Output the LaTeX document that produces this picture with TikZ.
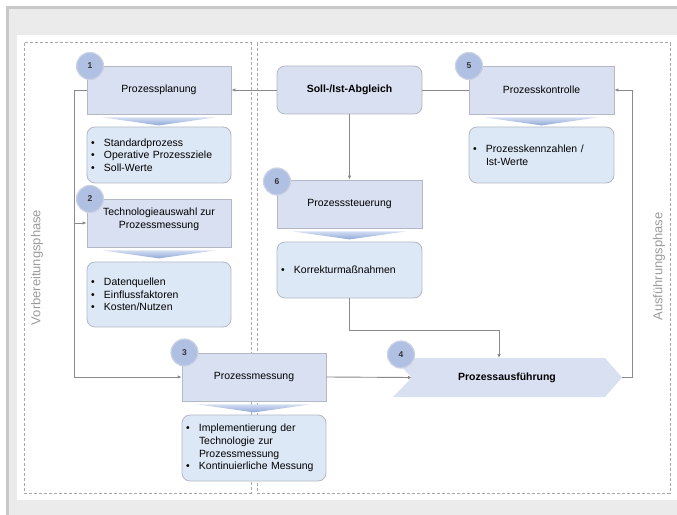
\documentclass[tikz,border=0pt]{standalone}
\usepackage{fontspec}
\setmainfont{Liberation Sans}
\usetikzlibrary{arrows.meta}
\definecolor{bgouter}{HTML}{EBEBEB}
\definecolor{bgline}{HTML}{C8C8C8}
\definecolor{boxfill}{HTML}{D8E0F1}
\definecolor{boxline}{HTML}{B4B8C4}
\definecolor{listfill}{HTML}{DDE8F6}
\definecolor{circfill}{HTML}{B0C0E3}
\definecolor{circline}{HTML}{CBD2E4}
\definecolor{conn}{HTML}{8A8A8A}
\definecolor{dashc}{HTML}{A8A8A8}
\definecolor{phasec}{HTML}{9C9C9C}
\definecolor{chevtop}{HTML}{D3DDF1}
\definecolor{chevbot}{HTML}{8EA8DA}
\newcommand\bl{\makebox[13bp][l]{\textbullet}}
\newcommand\ind{\hspace*{13bp}}
\newcommand\chevron[1]{\shade[top color=chevtop,bottom color=chevbot]
  ([xshift=16bp,yshift=-3bp]#1.south west) -- ([xshift=-16bp,yshift=-3bp]#1.south east)
  -- ([yshift=-11bp]#1.south) -- cycle;}
\tikzset{
 titlebox/.style={draw=boxline, fill=boxfill, line width=0.8bp, minimum width=144bp,
   minimum height=48bp, inner sep=0pt, font=\fontsize{10.5}{12.5}\selectfont, align=center},
 listbox/.style={draw=boxline, fill=listfill, line width=0.8bp, rounded corners=8bp,
   minimum width=144bp, inner xsep=4bp, inner ysep=0pt, text width=136bp, align=left,
   font=\fontsize{10.5}{12.7}\selectfont},
 numcirc/.style={circle, draw=circline, fill=circfill, line width=1.2bp, minimum size=27bp,
   inner sep=0pt, font=\bfseries\fontsize{8.5}{10}\selectfont, text=black!80},
 conline/.style={draw=conn, line width=0.9bp},
 conarrow/.style={conline, -{Latex[length=4bp,width=3.5bp]}},
 phasebox/.style={draw=dashc, line width=1bp, dash pattern=on 3bp off 2bp},
 phaselabel/.style={text=phasec, font=\fontsize{13}{15}\selectfont, rotate=90},
}
\begin{document}
\begin{tikzpicture}[x=1bp,y=-1bp]
\useasboundingbox (0,0) rectangle (677,515);
% background
\fill[white] (0,0) rectangle (677,515);
\fill[bgouter] (6,6) rectangle (677,515);
\fill[bgline] (6,6) rectangle (677,9);
\fill[bgline] (6,6) rectangle (9,515);
\fill[white] (17,35) rectangle (677,500);
% phase boxes
\draw[phasebox] (24,43) rectangle (251,493);
\draw[phasebox] (257,43) rectangle (670,493);
\node[phaselabel] (vp) at (37,267.5) {Vorbereitungsphase};
\node[phaselabel] (ap) at (659,266.5) {Ausführungsphase};

% left column
\node[titlebox] (pp) at (159,90) {Prozessplanung};
\chevron{pp}
\node[listbox, minimum height=56bp] (l1) at (159,155)
  {\bl Standardprozess\\\bl Operative Prozessziele\\\bl Soll-Werte};
\node[titlebox] (tw) at (159,223) {};
\node[font=\fontsize{10.5}{12.5}\selectfont, align=center] (twt) at (159,219.5)
  {Technologieauswahl zur\\Prozessmessung};
\chevron{tw}
\node[listbox, minimum height=65bp] (l2) at (159,294.5)
  {\bl Datenquellen\\\bl Einflussfaktoren\\\bl Kosten/Nutzen};
\node[titlebox] (pm) at (254,377) {Prozessmessung};
\chevron{pm}
\node[listbox, minimum height=66bp] (l3) at (254,448)
  {\bl Implementierung der\\\ind Technologie zur\\\ind Prozessmessung\\\bl Kontinuierliche Messung};

% middle
\node[titlebox, rounded corners=8bp, minimum width=145bp, font=\bfseries\fontsize{10.5}{12.5}\selectfont]
  (soll) at (349.5,90) {Soll-/Ist-Abgleich};
\node[titlebox, minimum width=145bp] (ps) at (349.5,204) {Prozesssteuerung};
\chevron{ps}
\node[listbox, minimum width=145bp, text width=137bp, minimum height=56bp] (l6) at (349.5,270)
  {\bl Korrekturmaßnahmen};

% right
\node[titlebox, minimum width=145bp] (pk) at (541.5,90) {Prozesskontrolle};
\chevron{pk}
\node[listbox, minimum width=145bp, text width=137bp, minimum height=56bp] (l5) at (541.5,155)
  {\bl Prozesskennzahlen /\\\ind Ist-Werte};

% Prozessausfuehrung
\fill[boxfill] (393,358) -- (605,358) -- (622,377.5) -- (605,397) -- (393,397) -- (412,377.5) -- cycle;
\coordinate (panotch) at (412,377.5);
\coordinate (patip) at (622,377.5);
\coordinate (patop) at (499,358);
\node[font=\bfseries\fontsize{10.5}{12.5}\selectfont] (pa) at (507,377.5) {Prozessausführung};

% connectors
\draw[conarrow] (soll.west) -- (pp.east);
\draw[conline] (pk.west) -- (soll.east);
\draw[conarrow] (soll.south) -- (ps.north);
\draw[conarrow] (l6.south) -- ++(0,32) -| (patop);
\draw[conarrow] (pm.east) -- (panotch);
\draw[conarrow] (patip) -- ++(10,0) |- (pk.east);
\draw[conarrow] (pp.west) -- ++(-12,0) |- (pm.west);
\draw[conarrow] (pp.west -| 75,0) ++(0,133) -- (tw.west);

% number circles
\node[numcirc] (c1) at (90,66) {1};
\node[numcirc] (c2) at (90,199) {2};
\node[numcirc] (c3) at (184.5,352.5) {3};
\node[numcirc] (c4) at (401,354.5) {4};
\node[numcirc] (c5) at (469,66) {5};
\node[numcirc] (c6) at (277,181.5) {6};
\end{tikzpicture}
\end{document}
